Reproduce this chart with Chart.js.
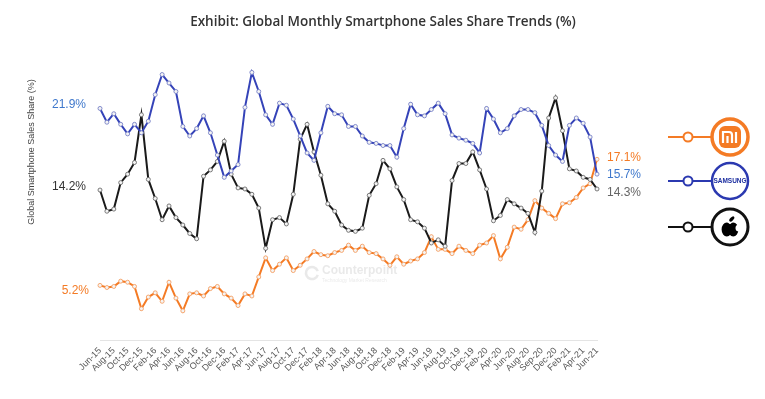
<!DOCTYPE html>
<html>
<head>
<meta charset="utf-8">
<script src="https://cdn.jsdelivr.net/npm/chart.js@4.4.1/dist/chart.umd.min.js"></script>
<style>
  html, body { margin: 0; padding: 0; background: #fff; }
  #wrap { width: 765px; height: 399px; }
</style>
</head>
<body>
<div id="wrap"><canvas id="shareChart" width="765" height="399"></canvas></div>
<script>
// Months Jun-15 .. Jun-21
const months = [
  "Jun-15", "Jul-15", "Aug-15", "Sep-15", "Oct-15", "Nov-15", "Dec-15",
  "Jan-16", "Feb-16", "Mar-16", "Apr-16", "May-16", "Jun-16", "Jul-16", "Aug-16", "Sep-16", "Oct-16", "Nov-16", "Dec-16",
  "Jan-17", "Feb-17", "Mar-17", "Apr-17", "May-17", "Jun-17", "Jul-17", "Aug-17", "Sep-17", "Oct-17", "Nov-17", "Dec-17",
  "Jan-18", "Feb-18", "Mar-18", "Apr-18", "May-18", "Jun-18", "Jul-18", "Aug-18", "Sep-18", "Oct-18", "Nov-18", "Dec-18",
  "Jan-19", "Feb-19", "Mar-19", "Apr-19", "May-19", "Jun-19", "Jul-19", "Aug-19", "Sep-19", "Oct-19", "Nov-19", "Dec-19",
  "Jan-20", "Feb-20", "Mar-20", "Apr-20", "May-20", "Jun-20", "Jul-20", "Aug-20", "Sep-20", "Oct-20", "Nov-20", "Dec-20",
  "Jan-21", "Feb-21", "Mar-21", "Apr-21", "May-21", "Jun-21",
];

// labels printed on the axis (every second month, as in the exhibit)
const tickLabels = [
  "Jun-15", "Aug-15", "Oct-15", "Dec-15", "Feb-16", "Apr-16", "Jun-16", "Aug-16", "Oct-16", "Dec-16",
  "Feb-17", "Apr-17", "Jun-17", "Aug-17", "Oct-17", "Dec-17", "Feb-18", "Apr-18", "Jun-18", "Aug-18",
  "Oct-18", "Dec-18", "Feb-19", "Apr-19", "Jun-19", "Aug-19", "Oct-19", "Dec-19", "Feb-20", "Apr-20",
  "Jun-20", "Aug-20", "Sep-20", "Dec-20", "Feb-21", "Apr-21", "Jun-21",
];

const samsung = [
  21.9, 20.6, 21.4, 20.4, 19.5, 20.4, 19.6, 20.7, 23.2, 25.1,
  24.3, 23.5, 20.2, 19.3, 20.0, 21.2, 19.6, 17.5, 15.4, 16.0,
  16.6, 22.0, 25.3, 23.5, 21.3, 20.4, 22.4, 22.2, 20.9, 19.3,
  17.7, 17.0, 19.6, 22.1, 21.4, 21.3, 20.2, 20.2, 19.3, 18.7,
  18.6, 18.4, 18.4, 17.3, 20.0, 22.3, 21.3, 21.2, 21.8, 22.4,
  21.4, 19.4, 19.1, 18.9, 18.6, 17.7, 21.9, 20.9, 19.6, 20.0,
  21.2, 21.8, 21.8, 21.5, 20.3, 18.4, 17.5, 16.9, 20.3, 21.0,
  20.5, 19.2, 15.7,
];

const apple = [
  14.2, 12.2, 12.4, 14.9, 15.7, 16.8, 21.3, 15.2, 13.4, 11.4,
  12.7, 11.6, 10.9, 10.1, 9.6, 15.5, 16.1, 16.9, 18.8, 15.7,
  14.4, 14.3, 13.8, 12.5, 8.7, 11.4, 11.6, 11.0, 13.8, 19.0,
  20.4, 17.8, 15.6, 12.9, 12.2, 10.9, 10.4, 10.3, 10.6, 13.7,
  14.8, 17.0, 16.2, 14.5, 13.3, 11.4, 11.2, 10.6, 9.2, 9.5,
  8.9, 15.1, 16.7, 16.7, 17.8, 16.1, 14.3, 11.3, 11.8, 13.3,
  12.9, 12.5, 12.0, 10.2, 14.1, 21.0, 22.9, 19.8, 16.2, 16.0,
  15.4, 15.2, 14.3,
];

const xiaomi = [
  5.2, 5.0, 5.1, 5.6, 5.5, 5.1, 3.0, 4.1, 4.5, 3.7,
  5.5, 4.0, 2.8, 4.4, 4.5, 4.2, 4.9, 5.1, 4.4, 4.0,
  3.3, 4.4, 4.2, 6.0, 7.8, 6.6, 7.2, 7.8, 6.6, 7.1,
  7.7, 8.4, 8.1, 8.0, 8.3, 8.5, 9.0, 8.5, 8.9, 8.3,
  8.2, 7.7, 7.1, 7.9, 7.2, 7.5, 7.7, 8.3, 9.8, 8.6,
  8.6, 8.2, 8.9, 8.5, 8.2, 9.0, 9.2, 9.9, 7.7, 8.8,
  10.7, 10.5, 11.4, 13.2, 12.5, 12.0, 11.5, 12.9, 13.0, 13.5,
  14.4, 14.8, 17.1,
];

const ORANGE = "#f47b25";
const BLUE = "#3543b8";
const BLACK = "#1a1a1a";

// start / end value labels, title, y title, watermark, brand legend
const decorations = {
  id: "decorations",
  afterDraw(chart) {
    const ctx = chart.ctx;
    const y = chart.scales.y;
    const last = months.length - 1;
    ctx.save();

    // title
    ctx.fillStyle = "#333";
    ctx.font = "600 13.5px 'Open Sans'";
    ctx.textAlign = "center";
    ctx.textBaseline = "middle";
    ctx.fillText("Exhibit: Global Monthly Smartphone Sales Share Trends (%)", 383, 22);

    // y axis title
    ctx.save();
    ctx.translate(32, 152);
    ctx.rotate(-Math.PI / 2);
    ctx.font = "9px 'Liberation Sans'";
    ctx.fillStyle = "#444";
    ctx.fillText("Global Smartphone Sales Share (%)", 0, 0);
    ctx.restore();

    // start labels
    ctx.font = "12px 'Liberation Sans'";
    ctx.textAlign = "right";
    ctx.fillStyle = "#3f78cc";
    ctx.fillText(samsung[0].toFixed(1) + "%", 86, y.getPixelForValue(samsung[0]) - 4);
    ctx.fillStyle = "#333";
    ctx.fillText(apple[0].toFixed(1) + "%", 86, y.getPixelForValue(apple[0]) - 3);
    ctx.fillStyle = ORANGE;
    ctx.fillText(xiaomi[0].toFixed(1) + "%", 89, y.getPixelForValue(xiaomi[0]) + 5);

    // end labels
    ctx.textAlign = "left";
    ctx.fillStyle = ORANGE;
    ctx.fillText(xiaomi[last].toFixed(1) + "%", 607, y.getPixelForValue(xiaomi[last]) - 2);
    ctx.fillStyle = "#3f78cc";
    ctx.fillText(samsung[last].toFixed(1) + "%", 607, y.getPixelForValue(samsung[last]) + 1);
    ctx.fillStyle = "#666";
    ctx.fillText(apple[last].toFixed(1) + "%", 607, y.getPixelForValue(apple[last]) + 4);

    // watermark
    ctx.globalAlpha = 0.13;
    ctx.strokeStyle = "#555";
    ctx.lineWidth = 2.5;
    ctx.beginPath();
    ctx.arc(312, 273, 6, 0.3, Math.PI * 1.9);
    ctx.stroke();
    ctx.fillStyle = "#555";
    ctx.font = "bold 12px 'Liberation Sans'";
    ctx.fillText("Counterpoint", 322, 271);
    ctx.font = "5px 'Liberation Sans'";
    ctx.fillText("Technology Market Research", 322, 281);
    ctx.globalAlpha = 1;

    // brand legend
    const brands = [
      { color: ORANGE, cy: 137, ring: 3.5 },
      { color: "#2b39b0", cy: 181, ring: 2.5 },
      { color: "#111", cy: 227, ring: 3 },
    ];
    const cx = 730;
    brands.forEach((b) => {
      ctx.strokeStyle = b.color;
      ctx.lineWidth = 2;
      ctx.beginPath();
      ctx.moveTo(668, b.cy);
      ctx.lineTo(712, b.cy);
      ctx.stroke();
      ctx.fillStyle = "#fff";
      ctx.beginPath();
      ctx.arc(688, b.cy, 4.5, 0, Math.PI * 2);
      ctx.fill();
      ctx.stroke();
      ctx.lineWidth = b.ring;
      ctx.beginPath();
      ctx.arc(cx, b.cy, 18, 0, Math.PI * 2);
      ctx.fill();
      ctx.stroke();
    });

    // Xiaomi mark
    let cy = brands[0].cy;
    ctx.fillStyle = ORANGE;
    ctx.beginPath();
    ctx.roundRect(cx - 11, cy - 11, 22, 22, 6);
    ctx.fill();
    ctx.strokeStyle = "#fff";
    ctx.lineWidth = 2.2;
    ctx.beginPath();
    ctx.moveTo(cx - 7, cy + 6);
    ctx.lineTo(cx - 7, cy - 5);
    ctx.lineTo(cx - 1, cy - 5);
    ctx.quadraticCurveTo(cx + 2, cy - 5, cx + 2, cy - 2);
    ctx.lineTo(cx + 2, cy + 6);
    ctx.moveTo(cx - 2.5, cy - 1);
    ctx.lineTo(cx - 2.5, cy + 6);
    ctx.moveTo(cx + 6, cy - 5);
    ctx.lineTo(cx + 6, cy + 6);
    ctx.stroke();

    // Samsung wordmark
    cy = brands[1].cy;
    ctx.fillStyle = "#1d2fa0";
    ctx.font = "bold 6.5px 'Liberation Sans'";
    ctx.textAlign = "center";
    ctx.fillText("SAMSUNG", cx, cy + 0.5);

    // Apple mark
    cy = brands[2].cy;
    ctx.fillStyle = "#000";
    ctx.beginPath();
    ctx.ellipse(cx - 3.2, cy + 2.5, 5.2, 7, 0, 0, Math.PI * 2);
    ctx.ellipse(cx + 3.2, cy + 2.5, 5.2, 7, 0, 0, Math.PI * 2);
    ctx.fill();
    ctx.fillStyle = "#fff";
    ctx.beginPath();
    ctx.arc(cx + 9, cy + 1, 3.5, 0, Math.PI * 2);
    ctx.fill();
    ctx.beginPath();
    ctx.arc(cx, cy - 4.8, 1.6, 0, Math.PI * 2);
    ctx.fill();
    ctx.fillStyle = "#000";
    ctx.beginPath();
    ctx.ellipse(cx + 1.8, cy - 8, 1.6, 3.2, Math.PI / 4, 0, Math.PI * 2);
    ctx.fill();

    ctx.restore();
  },
};

function series(label, data, color, pointEdge) {
  return {
    label: label,
    data: data,
    borderColor: color,
    borderWidth: 2,
    pointRadius: 2,
    pointBorderWidth: 1,
    pointBackgroundColor: "#f4f4f4",
    pointBorderColor: pointEdge,
    tension: 0,
    clip: false,
  };
}

const ctx = document.getElementById("shareChart").getContext("2d");
new Chart(ctx, {
  type: "line",
  data: {
    labels: months,
    datasets: [
      series("Samsung", samsung, BLUE, "rgba(120,130,200,0.9)"),
      series("Apple", apple, BLACK, "rgba(110,110,110,0.9)"),
      series("Xiaomi", xiaomi, ORANGE, "rgba(245,160,100,0.9)"),
    ],
  },
  options: {
    responsive: false,
    animation: false,
    layout: { padding: { left: 100, right: 168, top: 65, bottom: 0 } },
    plugins: {
      legend: { display: false },
      tooltip: { enabled: false },
    },
    scales: {
      x: {
        grid: { display: false, drawTicks: false },
        border: { display: true, color: "#e4e4e4", width: 1 },
        afterFit(scale) {
          scale.height = 58.5;
        },
        ticks: {
          autoSkip: false,
          maxRotation: 45,
          minRotation: 45,
          padding: 5,
          color: "#555",
          font: { family: "'Liberation Sans'", size: 9 },
          callback: (val, i) => (i % 2 === 0 ? tickLabels[i / 2] : ""),
        },
      },
      y: {
        display: false,
        min: 0,
        max: 26,
      },
    },
  },
  plugins: [decorations],
});
</script>
</body>
</html>
